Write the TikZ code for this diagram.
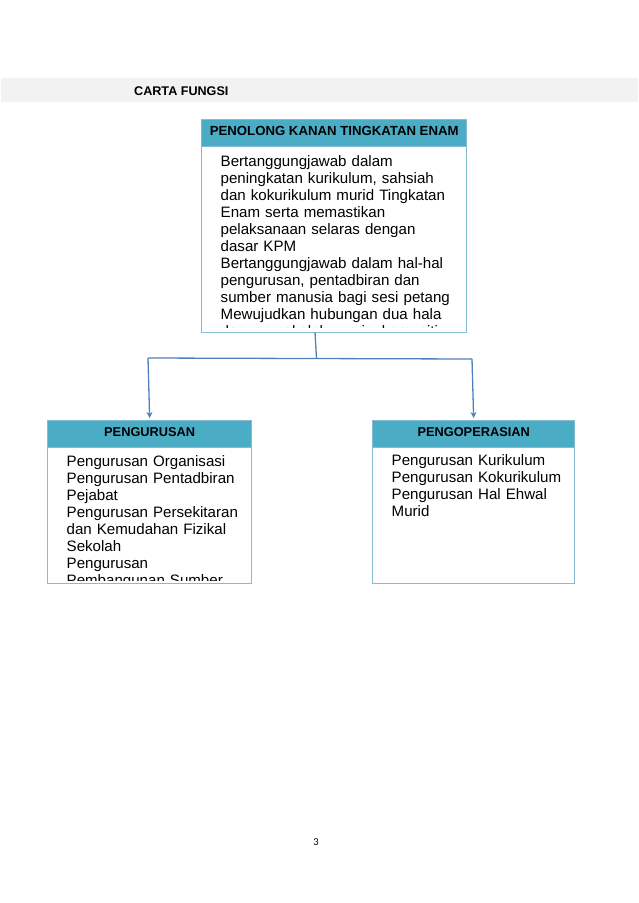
\documentclass[tikz,border=0pt]{standalone}
\usepackage{fontspec}
\setmainfont{Liberation Sans}
\newfontfamily\pagefont{Carlito}
\usetikzlibrary{arrows.meta}
\definecolor{hdr}{HTML}{4BACC6}
\definecolor{bdr}{HTML}{86BCD1}
\definecolor{connblue}{HTML}{4F81BD}
\definecolor{band}{HTML}{F2F2F2}
\begin{document}
\begin{tikzpicture}[x=1pt,y=-1pt,
  boxbody/.style={draw=bdr, line width=1.4pt, fill=white, inner sep=0pt, anchor=north west},
  headbar/.style={fill=hdr, draw=bdr, line width=1.4pt, inner sep=0pt, anchor=north west,
    text height=9.2pt, text depth=5pt, font=\bfseries\fontsize{12.8}{14}\selectfont},
  bodytext/.style={anchor=base west, inner sep=0pt, align=left, text width=#1,
    font=\fontsize{15.1}{17}\selectfont},
  link/.style={draw=connblue, line width=1.3pt},
  arrowlink/.style={link, -{Stealth[length=6pt,width=6pt]}, shorten >=2pt}]
\useasboundingbox (0,0) rectangle (638,903);
\fill[white] (0,0) rectangle (638,903);
% title band
\fill[band] (1,78) rectangle (638,102);
\node[anchor=base west, inner sep=0pt, font=\bfseries\fontsize{12.6}{14}\selectfont] (title) at (134,95.5) {CARTA FUNGSI};
% top box
\node[boxbody, minimum width=265pt, minimum height=213pt] (topbox) at (201,119) {};
\begin{scope}
\clip (202,146) rectangle (465,327);
\node[bodytext=240pt] (toptext) at (220.5,166.5) {Bertanggungjawab dalam\\
peningkatan kurikulum, sahsiah\\
dan kokurikulum murid Tingkatan\\
Enam serta memastikan\\
pelaksanaan selaras dengan\\
dasar KPM\\
Bertanggungjawab dalam hal-hal\\
pengurusan, pentadbiran dan\\
sumber manusia bagi sesi petang\\
Mewujudkan hubungan dua hala\\
dengan sekolah, waris, komuniti dan agensi};
\end{scope}
\node[headbar, minimum width=265pt, minimum height=27pt, font=\bfseries\fontsize{13.2}{14}\selectfont] (tophead) at (201,119) {PENOLONG KANAN TINGKATAN ENAM};
% left box
\node[boxbody, minimum width=204pt, minimum height=163pt] (leftbox) at (47,420) {};
\begin{scope}
\clip (48,447) rectangle (250,580.5);
\node[bodytext=185pt] (lefttext) at (66.5,466.8) {Pengurusan Organisasi\\
Pengurusan Pentadbiran\\
Pejabat\\
Pengurusan Persekitaran\\
dan Kemudahan Fizikal\\
Sekolah\\
Pengurusan\\
Pembangunan Sumber};
\end{scope}
\node[headbar, minimum width=204pt, minimum height=27pt] (lefthead) at (47,420) {PENGURUSAN};
% right box
\node[boxbody, minimum width=202pt, minimum height=163pt] (rightbox) at (372,420) {};
\node[bodytext=180pt] (righttext) at (391.5,465.5) {Pengurusan Kurikulum\\
Pengurusan Kokurikulum\\
Pengurusan Hal Ehwal\\
Murid};
\node[headbar, minimum width=202pt, minimum height=27pt] (righthead) at (372,420) {PENGOPERASIAN};
% connectors
\coordinate (stemtop) at (315,332.5);
\coordinate (jc) at (316.5,358.5);
\coordinate (jl) at (148,358);
\coordinate (jr) at (472,359);
\draw[link] (stemtop) -- (jc);
\draw[link] (jl) -- (jr);
\draw[arrowlink] (jl) -- (lefthead.north);
\draw[arrowlink] (jr) -- (righthead.north);
% page number
\node[font=\pagefont\fontsize{10.5}{12}\selectfont, inner sep=0pt] (pgnum) at (316,842) {3};
\end{tikzpicture}
\end{document}
